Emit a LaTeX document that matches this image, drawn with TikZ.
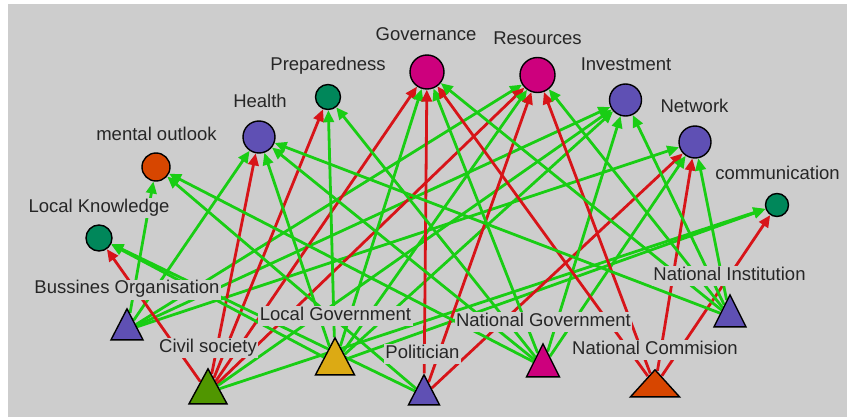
\documentclass[tikz,border=0pt]{standalone}
\usepackage{fontspec}
\setmainfont{Liberation Sans}
\usetikzlibrary{shapes.geometric,arrows.meta}
\definecolor{bgc}{RGB}{205,205,205}
\definecolor{gline}{RGB}{25,205,20}
\definecolor{rline}{RGB}{215,20,25}
\definecolor{cmag}{RGB}{205,0,125}
\definecolor{cteal}{RGB}{0,135,90}
\definecolor{cslate}{RGB}{95,80,180}
\definecolor{corange}{RGB}{215,70,0}
\definecolor{colive}{RGB}{80,150,0}
\definecolor{cgold}{RGB}{220,170,20}
\pgfdeclarelayer{back}
\pgfdeclarelayer{edges}
\pgfsetlayers{back,edges,main}
\tikzset{
  conc/.style={circle, draw=black, line width=1.4pt, inner sep=0pt, fill=#1},
  actor/.style={isosceles triangle, isosceles triangle stretches,
    shape border rotate=90, draw=black, line width=1.4pt, inner sep=0pt,
    anchor=apex, fill=#1},
  lbl/.style={fill=bgc, inner sep=1.5pt, text=black!85, anchor=base,
    font=\fontsize{18.5}{20}\selectfont, text height=13pt, text depth=4pt},
  link/.style={line width=2.8pt, -{Triangle[length=12pt,width=10.5pt]}},
  glink/.style={link, draw=gline, fill=gline},
  rlink/.style={link, draw=rline, fill=rline}
}
\begin{document}
\begin{tikzpicture}[x=1pt,y=-1pt]
\begin{pgfonlayer}{back}
  \fill[white] (0,0) rectangle (847,417);
  \fill[bgc] (8,4) rectangle (847,417);
\end{pgfonlayer}
\useasboundingbox (0,0) rectangle (847,417);

% concepts
\node[conc=cmag,   minimum size=34pt] (Gov)  at (427,72)    {};
\node[conc=cmag,   minimum size=35pt] (Res)  at (537.5,75)  {};
\node[conc=cteal,  minimum size=25pt] (Prep) at (328,97)    {};
\node[conc=cslate, minimum size=32pt] (Inv)  at (625.5,100) {};
\node[conc=cslate, minimum size=32pt] (Hea)  at (259,137)   {};
\node[conc=cslate, minimum size=32pt] (Net)  at (695,142)   {};
\node[conc=corange,minimum size=28pt] (Ment) at (156,167)   {};
\node[conc=cteal,  minimum size=23pt] (Com)  at (777,205)   {};
\node[conc=cteal,  minimum size=26pt] (LK)   at (99,238)    {};

% actors
\node[actor=cslate, minimum width=32pt, minimum height=31pt] (BO)  at (127,307) {};
\node[actor=colive, minimum width=38pt, minimum height=35pt] (CS)  at (208,367) {};
\node[actor=cgold,  minimum width=39pt, minimum height=37pt] (LG)  at (335,336) {};
\node[actor=cslate, minimum width=31pt, minimum height=30pt] (Pol) at (424,373) {};
\node[actor=cmag,   minimum width=33pt, minimum height=33pt] (NG)  at (543,342) {};
\node[actor=corange,minimum width=49pt, minimum height=27pt] (NC)  at (655,368) {};
\node[actor=cslate, minimum width=32pt, minimum height=32pt] (NI)  at (730,293) {};

% ties
\begin{pgfonlayer}{edges}
  \foreach \t in {Ment,Hea,Res,Inv,Net} \draw[glink] (BO) -- (\t);
  \foreach \t in {LK,Hea,Prep,Gov,Res} \draw[rlink] (CS) -- (\t);
  \foreach \t in {Inv,Com} \draw[glink] (CS) -- (\t);
  \foreach \t in {LK,Hea,Prep,Gov,Res,Inv,Com} \draw[glink] (LG) -- (\t);
  \foreach \t in {LK,Ment} \draw[glink] (Pol) -- (\t);
  \foreach \t in {Gov,Res,Net} \draw[rlink] (Pol) -- (\t);
  \foreach \t in {Ment,Hea,Prep,Gov,Inv,Net} \draw[glink] (NG) -- (\t);
  \foreach \t in {Gov,Res,Net,Com} \draw[rlink] (NC) -- (\t);
  \foreach \t in {Hea,Gov,Res,Inv,Net} \draw[glink] (NI) -- (\t);
\end{pgfonlayer}

% labels
\node[lbl] (tGov)  at (426,41)   {Governance};
\node[lbl] (tRes)  at (537.5,45) {Resources};
\node[lbl] (tPrep) at (328,71)   {Preparedness};
\node[lbl] (tInv)  at (626,71)   {Investment};
\node[lbl] (tHea)  at (260,108)  {Health};
\node[lbl] (tNet)  at (694.5,113){Network};
\node[lbl] (tMent) at (156.5,141){mental outlook};
\node[lbl] (tCom)  at (777.5,180){communication};
\node[lbl] (tLK)   at (99,213)   {Local Knowledge};
\node[lbl] (tBO)   at (127,294)  {Bussines Organisation};
\node[lbl] (tCS)   at (208,352)  {Civil society};
\node[lbl] (tLG)   at (335.5,320){Local Government};
\node[lbl] (tPol)  at (422.5,358){Politician};
\node[lbl] (tNG)   at (543.5,326){National Government};
\node[lbl] (tNC)   at (655,354)  {National Commision};
\node[lbl] (tNI)   at (729.5,280){National Institution};
\end{tikzpicture}
\end{document}
